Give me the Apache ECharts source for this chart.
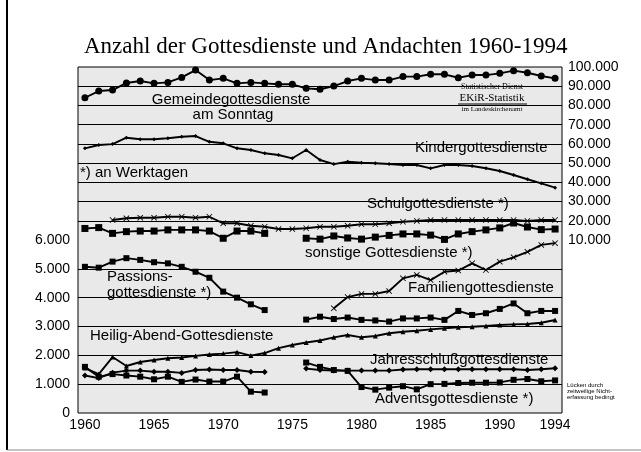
<!DOCTYPE html>
<html><head><meta charset="utf-8">
<script src="https://cdn.jsdelivr.net/npm/echarts@6/dist/echarts.min.js"></script>
<style>html,body{margin:0;padding:0;background:#fff}#c{width:641px;height:452px}</style>
</head><body><div id="c"></div>
<script>
// ---- data ----
const years = ['1960','1961','1962','1963','1964','1965','1966','1967','1968','1969',
  '1970','1971','1972','1973','1974','1975','1976','1977','1978','1979',
  '1980','1981','1982','1983','1984','1985','1986','1987','1988','1989',
  '1990','1991','1992','1993','1994'];
const xLabelYears = ['1960','1965','1970','1975','1980','1985','1990','1994'];
const rightTickLabels = [10000,20000,30000,40000,50000,60000,70000,80000,90000,100000];
const leftTickLabels = [0,1000,2000,3000,4000,5000,6000];
const upperGridLines = [20000,30000,40000,50000,60000,70000,80000,90000];
const lowerGridLines = [1000,2000,3000,4000,5000];

// upper panel (right scale)
const gemeinde = [84000,87500,88000,91700,92700,91500,92000,94600,98400,93200,
  94100,91500,92000,91500,91000,91000,88900,88400,90100,92700,
  94100,93200,93200,95000,95000,96200,96200,94400,95800,95800,
  96700,98100,97000,95300,94100];
const kinder = [57700,59400,59900,63200,62400,62400,62900,63700,64100,61100,
  60300,57700,56800,55100,54200,52500,56800,51600,49500,50700,
  50200,49900,49500,49000,49000,47300,49000,49000,48500,47300,
  45900,43800,41600,39500,37200];
const schul = [null,null,20400,21300,21600,21600,22100,22100,21600,22100,
  18700,18700,17400,16900,15700,15700,16100,16900,16900,17400,
  18200,18200,18700,19500,19900,20400,20400,20400,20400,20400,
  20400,20400,19900,20400,20400];
// lower panel (left scale)
const sonstige = [6400,6430,6230,6290,6310,6310,6350,6350,6350,6310,
  6060,6310,6310,6230,null,null,6060,6030,6140,6070,
  6030,6100,6160,6210,6210,6170,6020,6210,6290,6350,
  6420,6590,6450,6360,6380];
const passion = [5070,5040,5250,5370,5310,5230,5190,5070,4900,4690,
  4210,4000,3770,3570,null,null,3240,3340,3260,3310,
  3230,3210,3170,3280,3280,3310,3230,3540,3400,3460,
  3610,3800,3460,3540,3540];
const familie = [null,null,null,null,null,null,null,null,null,null,
  null,null,null,null,null,null,null,null,3630,4020,
  4130,4130,4230,4670,4790,4610,4900,4940,5190,4960,
  5250,5400,5590,5830,5890];
const heiligabend = [1560,1350,1940,1630,1770,1840,1900,1925,1980,2030,
  2060,2110,1990,2080,2250,2360,2445,2515,2625,2705,
  2625,2670,2765,2820,2855,2900,2940,2970,2990,3015,
  3050,3075,3085,3130,3225];
const jahresschluss = [1300,1210,1400,1470,1470,1430,1430,1390,1490,1510,
  1490,1490,1430,1420,null,null,1540,1490,1475,1470,
  1470,1470,1470,1510,1515,1515,1515,1515,1515,1515,
  1515,1515,1490,1515,1550];
const advent = [1600,1260,1350,1300,1260,1170,1260,1080,1160,1090,
  1090,1260,740,710,null,null,1750,1600,1490,1460,
  900,810,880,930,820,1000,1010,1040,1050,1050,
  1060,1150,1180,1100,1130];

// ---- chart ----
const fmt = v => String(v).replace(/\B(?=(\d{3})+(?!\d))/g, '.');
const SANS = '"Liberation Sans", Arial, sans-serif';
const SERIF = '"Liberation Serif", "Times New Roman", serif';
const CROSS = 'path://M0,1L1,0L5,4L9,0L10,1L6,5L10,9L9,10L5,6L1,10L0,9L4,5Z';

function ser(name, data, axis, symbol, size, extra) {
  return Object.assign({
    name, type: 'line', data, yAxisIndex: axis, symbol, symbolSize: size,
    showSymbol: true, connectNulls: false, animation: false, silent: true,
    lineStyle: { color: '#000', width: 1.9 },
    itemStyle: { color: '#000' }, z: 3
  }, extra || {});
}
function gridMark(vals) {
  return {
    silent: true, symbol: ['none', 'none'], animation: false,
    label: { show: false },
    lineStyle: { color: '#000', type: 'solid', width: 1 },
    data: vals.map(v => ({ yAxis: v }))
  };
}

const chart = echarts.init(document.getElementById('c'), null, { renderer: 'canvas' });
chart.setOption({
  backgroundColor: '#fff',
  animation: false,
  grid: { left: 78, right: 79, top: 67, bottom: 39, show: true,
    borderColor: '#000', borderWidth: 1, backgroundColor: '#e9e9e9' },
  xAxis: {
    type: 'category', data: years, boundaryGap: true,
    axisLine: { show: false }, axisTick: { show: false }, splitLine: { show: false },
    axisLabel: { interval: (i, v) => xLabelYears.indexOf(v) >= 0, color: '#000',
      fontFamily: SANS, fontSize: 14, margin: 5 }
  },
  yAxis: [
    { type: 'value', min: 0, max: 12000, interval: 1000, position: 'left',
      axisLine: { show: false }, axisTick: { show: false }, splitLine: { show: false },
      axisLabel: { color: '#000', fontFamily: SANS, fontSize: 14, margin: 8,
        formatter: v => leftTickLabels.indexOf(v) >= 0 ? fmt(v) : '' } },
    { type: 'value', min: -80000, max: 100000, interval: 10000, position: 'right',
      axisLine: { show: false }, axisTick: { show: false }, splitLine: { show: false },
      axisLabel: { color: '#000', fontFamily: SANS, fontSize: 14, margin: 6,
        formatter: v => rightTickLabels.indexOf(v) >= 0 ? fmt(v) : '' } }
  ],
  series: [
    ser('Gemeindegottesdienste am Sonntag', gemeinde, 1, 'circle', 7, { markLine: gridMark(upperGridLines) }),
    ser('Kindergottesdienste', kinder, 1, 'diamond', 4),
    ser('Schulgottesdienste', schul, 1, CROSS, 6),
    ser('sonstige Gottesdienste', sonstige, 0, 'rect', 7),
    ser('Passionsgottesdienste', passion, 0, 'rect', 6, { markLine: gridMark(lowerGridLines) }),
    ser('Familiengottesdienste', familie, 0, CROSS, 6),
    ser('Heilig-Abend-Gottesdienste', heiligabend, 0, 'triangle', 5),
    ser('Jahresschlußgottesdienste', jahresschluss, 0, 'diamond', 6),
    ser('Adventsgottesdienste', advent, 0, 'rect', 6)
  ],
  graphic: [
    { type: 'line', shape: { x1: 7, y1: 0, x2: 7, y2: 450 }, style: { stroke: '#000', lineWidth: 2 } },
    { type: 'line', shape: { x1: 7, y1: 450, x2: 641, y2: 450 }, style: { stroke: '#888', lineWidth: 1 } },
    { type: 'text', x: 84, y: 47, style: { text: 'Anzahl der Gottesdienste und Andachten 1960-1994',
      font: '23px ' + SERIF, fill: '#000', textVerticalAlign: 'middle' } },
    { type: 'text', x: 231, y: 100, z: 10, style: { text: 'Gemeindegottesdienste', font: '15px ' + SANS, fill: '#000', textAlign: 'center', textVerticalAlign: 'middle' } },
    { type: 'text', x: 233, y: 115, z: 10, style: { text: 'am Sonntag', font: '15px ' + SANS, fill: '#000', textAlign: 'center', textVerticalAlign: 'middle' } },
    { type: 'text', x: 492, y: 87, z: 10, style: { text: 'Statistischer Dienst', font: '8px ' + SERIF, fill: '#000', textAlign: 'center', textVerticalAlign: 'middle' } },
    { type: 'text', x: 492, y: 98, z: 10, style: { text: 'EKiR-Statistik', font: '11px ' + SERIF, fill: '#000', textAlign: 'center', textVerticalAlign: 'middle' } },
    { type: 'line', z: 10, shape: { x1: 458, y1: 104, x2: 527, y2: 104 }, style: { stroke: '#000', lineWidth: 1 } },
    { type: 'text', x: 492, y: 109, z: 10, style: { text: 'im Landeskirchenamt', font: '7px ' + SERIF, fill: '#000', textAlign: 'center', textVerticalAlign: 'middle' } },
    { type: 'text', x: 415, y: 148, z: 10, style: { text: 'Kindergottesdienste', font: '15px ' + SANS, fill: '#000', textVerticalAlign: 'middle' } },
    { type: 'text', x: 80, y: 173, z: 10, style: { text: '*) an Werktagen', font: '15px ' + SANS, fill: '#000', textVerticalAlign: 'middle' } },
    { type: 'text', x: 367, y: 204, z: 10, style: { text: 'Schulgottesdienste *)', font: '15px ' + SANS, fill: '#000', textVerticalAlign: 'middle' } },
    { type: 'text', x: 305, y: 253, z: 10, style: { text: 'sonstige Gottesdienste *)', font: '15px ' + SANS, fill: '#000', textVerticalAlign: 'middle' } },
    { type: 'text', x: 107, y: 277, z: 10, style: { text: 'Passions-', font: '15px ' + SANS, fill: '#000', textVerticalAlign: 'middle' } },
    { type: 'text', x: 107, y: 293, z: 10, style: { text: 'gottesdienste *)', font: '15px ' + SANS, fill: '#000', textVerticalAlign: 'middle' } },
    { type: 'text', x: 408, y: 288, z: 10, style: { text: 'Familiengottesdienste', font: '15px ' + SANS, fill: '#000', textVerticalAlign: 'middle' } },
    { type: 'text', x: 90, y: 336, z: 10, style: { text: 'Heilig-Abend-Gottesdienste', font: '15px ' + SANS, fill: '#000', textVerticalAlign: 'middle' } },
    { type: 'text', x: 370, y: 360, z: 10, style: { text: 'Jahresschlußgottesdienste', font: '15px ' + SANS, fill: '#000', textVerticalAlign: 'middle' } },
    { type: 'text', x: 375, y: 399, z: 10, style: { text: 'Adventsgottesdienste *)', font: '15px ' + SANS, fill: '#000', textVerticalAlign: 'middle' } },
    { type: 'text', x: 567, y: 385, z: 10, style: { text: 'Lücken durch', font: '6px ' + SANS, fill: '#000', textVerticalAlign: 'middle' } },
    { type: 'text', x: 567, y: 391, z: 10, style: { text: 'zeitweilige Nicht-', font: '6px ' + SANS, fill: '#000', textVerticalAlign: 'middle' } },
    { type: 'text', x: 567, y: 397, z: 10, style: { text: 'erfassung bedingt', font: '6px ' + SANS, fill: '#000', textVerticalAlign: 'middle' } }
  ]
});
</script>
</body></html>
